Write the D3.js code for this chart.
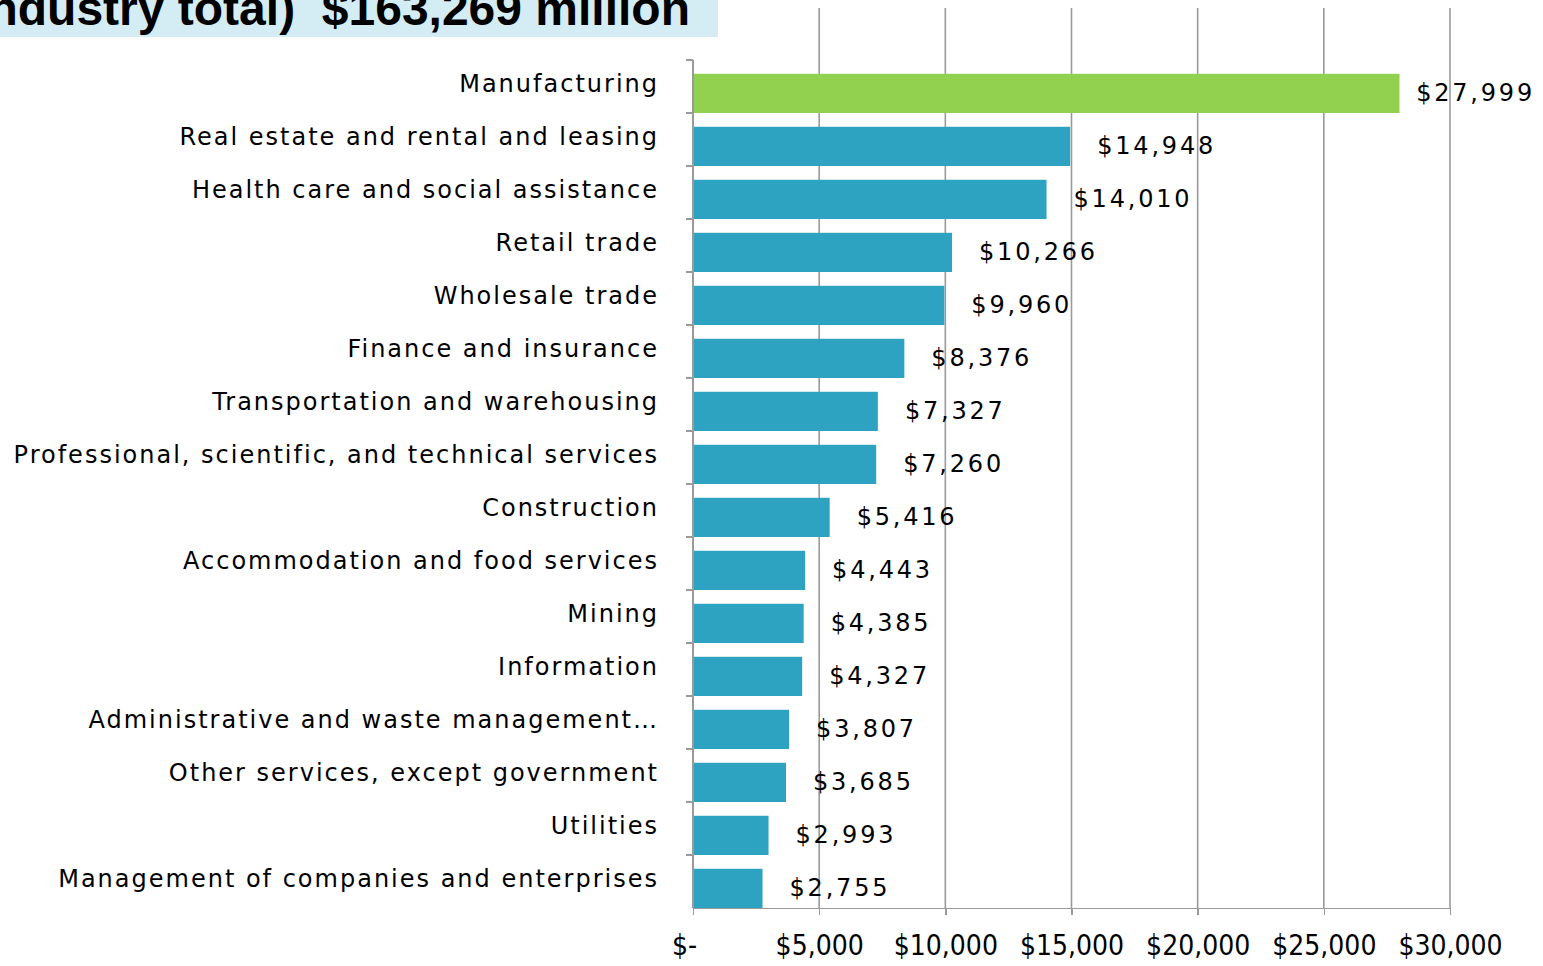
<!DOCTYPE html>
<html lang="en">
<head>
    <meta charset="UTF-8">
    <title>Industry total</title>
    <script src="https://d3js.org/d3.v7.min.js"></script>
</head>
<body style="margin:0;background:#fff;">

<style>
    .axis line, .axis path {
        fill: none;
        stroke: #9a9a9a;
        stroke-width: 1.6;
        shape-rendering: crispEdges;
    }
    .x.axis text {
        fill: #000;
        font: 28px "DejaVu Sans Condensed", sans-serif;
    }
    .cat {
        fill: #000;
        font: 24px "DejaVu Sans", sans-serif;
        letter-spacing: 2px;
    }
    .val {
        fill: #000;
        font: 24px "DejaVu Sans", sans-serif;
        letter-spacing: 2.8px;
    }
</style>

<script type="text/javascript">

    var categories = ["Manufacturing", "Real estate and rental and leasing", "Health care and social assistance",
        "Retail trade", "Wholesale trade", "Finance and insurance", "Transportation and warehousing",
        "Professional, scientific, and technical services", "Construction", "Accommodation and food services",
        "Mining", "Information", "Administrative and waste management\u2026", "Other services, except government",
        "Utilities", "Management of companies and enterprises"];
    var values = [27999, 14948, 14010, 10266, 9960, 8376, 7327, 7260, 5416, 4443, 4385, 4327, 3807, 3685, 2993, 2755];
    var tickValues = [0, 5000, 10000, 15000, 20000, 25000, 30000];
    var tickLabels = ["$-", "$5,000", "$10,000", "$15,000", "$20,000", "$25,000", "$30,000"];
    var title = "(Industry total)  $163,269 million";

    var data = categories.map(function(c, i) { return {name: c, value: values[i]}; });

    var W = 1543, H = 966;
    var plotLeft = 693, plotRight = 1450, plotTop = 60, plotBottom = 908;

    var svg = d3.select("body").append("svg")
        .attr("width", W)
        .attr("height", H);

    // title box (cut off at the top)
    svg.append("rect")
        .attr("x", 0).attr("y", 0)
        .attr("width", 718).attr("height", 37)
        .style("fill", "#d4edf4");
    svg.append("text")
        .attr("x", 690).attr("y", 25)
        .attr("text-anchor", "end")
        .style("font", "bold 48px 'Liberation Sans', Arial, sans-serif")
        .style("fill", "#000")
        .style("white-space", "pre")
        .text(title);

    var xScale = d3.scaleLinear().domain([0, 30000]).range([plotLeft, plotRight]);
    var yScale = d3.scaleBand().domain(categories).range([plotTop, plotBottom]).padding(0);

    // vertical gridlines
    svg.append("g").selectAll("line")
        .data(tickValues.slice(1)).enter()
        .append("line")
        .attr("x1", function(d) { return xScale(d); })
        .attr("x2", function(d) { return xScale(d); })
        .attr("y1", 8).attr("y2", plotBottom)
        .style("stroke", "#9a9a9a")
        .style("stroke-width", 1.6);

    var xAxis = d3.axisBottom(xScale)
        .tickValues(tickValues)
        .tickSize(7)
        .tickSizeOuter(7)
        .tickFormat(function(d, i) { return tickLabels[i]; });

    var gx = svg.append("g")
        .attr("class", "x axis")
        .attr("transform", "translate(0," + plotBottom + ")")
        .call(xAxis);
    gx.selectAll("text").attr("y", 27).attr("dy", "0.71em");
    gx.selectAll(".tick").filter(function(d) { return d === 0; })
        .select("text").attr("dx", -9);

    // category axis with ticks on band boundaries
    var gy = svg.append("g").attr("class", "y axis");
    gy.append("line")
        .attr("x1", plotLeft).attr("x2", plotLeft)
        .attr("y1", plotTop).attr("y2", plotBottom);
    gy.selectAll("line.tk")
        .data(categories).enter()
        .append("line")
        .attr("class", "tk")
        .attr("x1", plotLeft - 7).attr("x2", plotLeft)
        .attr("y1", function(d) { return yScale(d); })
        .attr("y2", function(d) { return yScale(d); });

    var barTop = yScale.bandwidth() * 0.26;
    var barH = yScale.bandwidth() - barTop;

    svg.append("g").selectAll("rect")
        .data(data).enter()
        .append("rect")
        .attr("x", xScale(0) + 1)
        .attr("y", function(d) { return yScale(d.name) + barTop; })
        .attr("width", function(d) { return xScale(d.value) - xScale(0) - 1; })
        .attr("height", barH)
        .style("fill", function(d, i) { return i === 0 ? "#92d050" : "#2da3c1"; });

    svg.append("g").selectAll("text")
        .data(data).enter()
        .append("text")
        .attr("class", "cat")
        .attr("x", 659)
        .attr("y", function(d) { return yScale(d.name) + yScale.bandwidth() / 2 - 2.5; })
        .attr("dy", "0.35em")
        .attr("text-anchor", "end")
        .text(function(d) { return d.name; });

    var fmt = d3.format(",");
    svg.append("g").selectAll("text")
        .data(data).enter()
        .append("text")
        .attr("class", "val")
        .attr("y", function(d) { return yScale(d.name) + barTop + barH / 2 - 1; })
        .attr("dy", "0.35em")
        .text(function(d) { return "$" + fmt(d.value); })
        .attr("x", function(d) {
            var x = xScale(d.value) + 27;
            var w = this.getComputedTextLength();
            return Math.min(x, W - 8 - w);
        });

</script>

</body>
</html>
